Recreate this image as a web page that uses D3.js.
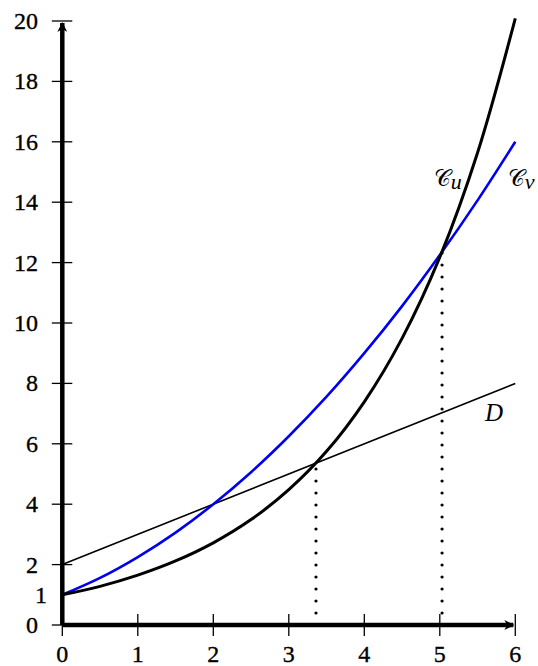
<!DOCTYPE html>
<html>
<head>
<meta charset="utf-8">
<script src="https://cdn.jsdelivr.net/npm/d3@7"></script>
<style>
  html, body { margin: 0; padding: 0; background: #fff; }
  svg text { font-family: "Liberation Serif", "Times New Roman", serif; }
</style>
</head>
<body>
<div id="chart"></div>
<script>
// Sample points
const xs = [0, 0.5, 1, 1.5, 2, 2.5, 3, 3.5, 4, 4.5, 5, 5.5, 6];
const uValues = [1, 1.28, 1.65, 2.12, 2.72, 3.49, 4.48, 5.75, 7.39, 9.49, 12.18, 15.64, 20.09];
const vValues = [1, 1.56, 2.25, 3.06, 4, 5.06, 6.25, 7.56, 9, 10.56, 12.25, 14.06, 16];
const dXs = [0, 6];
const dValues = [2, 8];
// intersection drops
const dropX = [3.36, 5.03];
const dropY = [5.36, 12.37];
const xTicks = [0, 1, 2, 3, 4, 5, 6];
const yTicks = [0, 2, 4, 6, 8, 10, 12, 14, 16, 18, 20];

const width = 538, height = 666;
const x = d3.scaleLinear().domain([0, 6]).range([62.3, 515.3]);
const y = d3.scaleLinear().domain([0, 20]).range([625, 21]);

const svg = d3.select("#chart").append("svg").attr("width", width).attr("height", height);

const defs = svg.append("defs");
defs.append("marker")
  .attr("id", "arrow")
  .attr("viewBox", "0 0 10 10")
  .attr("refX", 9).attr("refY", 5)
  .attr("markerWidth", 10).attr("markerHeight", 10)
  .attr("markerUnits", "userSpaceOnUse")
  .attr("orient", "auto")
  .append("path")
  .attr("d", "M0,0 L10,5 L0,10 L3,5 Z")
  .attr("fill", "#000");

// dotted drop lines
dropX.forEach((dx, i) => {
  svg.append("line")
    .attr("x1", x(dx)).attr("x2", x(dx))
    .attr("y1", y(0)).attr("y2", y(dropY[i]))
    .attr("stroke", "#000").attr("stroke-width", 3.2)
    .attr("stroke-linecap", "round")
    .attr("stroke-dasharray", "0 12");
});

const line = d3.line().x((d) => x(d[0])).y((d) => y(d[1])).curve(d3.curveCatmullRom);

svg.append("path")
  .datum(dXs.map((d, i) => [d, dValues[i]]))
  .attr("d", d3.line().x((d) => x(d[0])).y((d) => y(d[1])))
  .attr("fill", "none").attr("stroke", "#000").attr("stroke-width", 1.6);

svg.append("path")
  .datum(xs.map((d, i) => [d, vValues[i]]))
  .attr("d", line)
  .attr("fill", "none").attr("stroke", "#0000ee").attr("stroke-width", 2.6);

svg.append("path")
  .datum(xs.map((d, i) => [d, uValues[i]]))
  .attr("d", line)
  .attr("fill", "none").attr("stroke", "#000").attr("stroke-width", 3);

// axes
svg.append("line")
  .attr("x1", x(0)).attr("x2", x(6) - 2)
  .attr("y1", y(0)).attr("y2", y(0))
  .attr("stroke", "#000").attr("stroke-width", 4.5)
  .attr("marker-end", "url(#arrow)");

svg.append("line")
  .attr("x1", x(0)).attr("x2", x(0))
  .attr("y1", y(0)).attr("y2", y(20) + 2)
  .attr("stroke", "#000").attr("stroke-width", 4.5)
  .attr("marker-end", "url(#arrow)");

svg.append("g")
  .selectAll("line")
  .data(xTicks)
  .join("line")
  .attr("x1", (d) => x(d)).attr("x2", (d) => x(d))
  .attr("y1", y(0) - 11).attr("y2", y(0) + 11)
  .attr("stroke", "#000").attr("stroke-width", 1.3);

svg.append("g")
  .selectAll("line")
  .data(yTicks)
  .join("line")
  .attr("x1", x(0) - 10.5).attr("x2", x(0) + 10)
  .attr("y1", (d) => y(d)).attr("y2", (d) => y(d))
  .attr("stroke", "#000").attr("stroke-width", 1.3);

const labelStyle = (sel) => sel
  .attr("font-size", 24)
  .attr("stroke", "#000")
  .attr("stroke-width", 0.35);

svg.append("g")
  .selectAll("text")
  .data(xTicks)
  .join("text")
  .attr("x", (d) => x(d)).attr("y", 662)
  .attr("text-anchor", "middle")
  .call(labelStyle)
  .text((d) => d);

svg.append("g")
  .selectAll("text")
  .data(yTicks)
  .join("text")
  .attr("x", 38).attr("y", (d) => y(d) + 8)
  .attr("text-anchor", "end")
  .call(labelStyle)
  .text((d) => d);

svg.append("text")
  .attr("x", 47).attr("y", y(1) + 8)
  .attr("text-anchor", "end")
  .call(labelStyle)
  .text("1");

// curve labels
function curveLabel(px, py, sub) {
  const t = svg.append("text").attr("x", px).attr("y", py).attr("font-size", 23);
  t.append("tspan").attr("font-family", "DejaVu Serif, serif").text("\u{1D49E}");
  t.append("tspan").attr("font-style", "italic").attr("font-size", 22).attr("dy", 3).text(sub);
}
curveLabel(x(4.92), y(14.55), "u");
curveLabel(x(5.9), y(14.55), "v");

svg.append("text")
  .attr("x", x(5.6)).attr("y", y(6.75))
  .attr("font-size", 25).attr("font-style", "italic")
  .text("D");
</script>
</body>
</html>
